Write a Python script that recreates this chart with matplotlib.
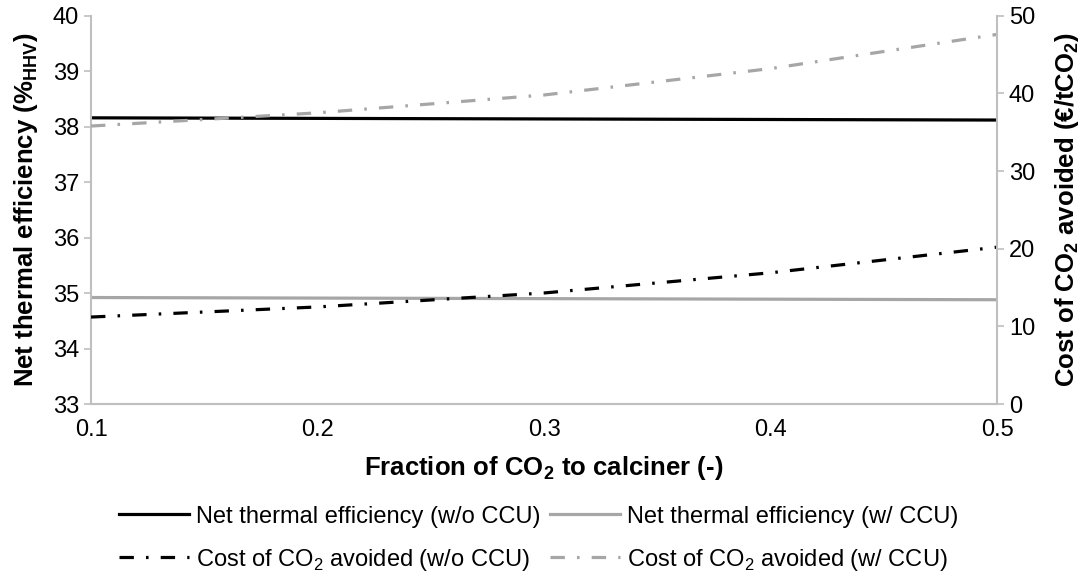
import matplotlib.pyplot as plt
import numpy as np

plt.rcParams['font.family'] = ['Liberation Sans', 'DejaVu Sans']
plt.rcParams['mathtext.fontset'] = 'custom'
plt.rcParams['mathtext.rm'] = 'Liberation Sans'
plt.rcParams['mathtext.bf'] = 'Liberation Sans:bold'

# fraction of CO2 sent to the calciner
frac = [0.1, 0.2, 0.3, 0.4, 0.5]
eff_wo = [38.16, 38.15, 38.14, 38.13, 38.12]     # %HHV
eff_w = [34.92, 34.91, 34.90, 34.89, 34.88]
cost_wo = [11.2, 12.5, 14.3, 16.9, 20.2]         # EUR/tCO2
cost_w = [35.8, 37.5, 39.8, 43.2, 47.6]

xticks = [0.1, 0.2, 0.3, 0.4, 0.5]
yticks_l = [33, 34, 35, 36, 37, 38, 39, 40]
yticks_r = [0, 10, 20, 30, 40, 50]

grey = '#A6A6A6'
spine = '#BFBFBF'
dd = (4.5, 3.8, 0.8, 3.8)

fig = plt.figure(figsize=(10.89, 5.76), dpi=100)
ax = fig.add_axes([0.0836, 0.2986, 0.832, 0.674])
ax2 = ax.twinx()

l1, = ax.plot(frac, eff_wo, color='black', lw=2.3)
l2, = ax.plot(frac, eff_w, color=grey, lw=2.3)
l3, = ax2.plot(frac, cost_wo, color='black', lw=2.3, dashes=dd)
l4, = ax2.plot(frac, cost_w, color=grey, lw=2.3, dashes=dd)

ax.set_xlim(0.1, 0.5)
ax.set_ylim(33, 40)
ax2.set_ylim(0, 50)
ax.set_xticks(xticks)
ax.set_xticklabels([f'{v:.1f}' for v in xticks])
ax.set_yticks(yticks_l)
ax2.set_yticks(yticks_r)

for a in (ax, ax2):
    a.spines['top'].set_visible(False)
    for s in ('left', 'right', 'bottom'):
        a.spines[s].set_color(spine)
        a.spines[s].set_linewidth(1.5)
    a.tick_params(colors=spine, labelcolor='black', labelsize=17, length=5, width=1.2)
ax.tick_params(axis='x', length=0, pad=11)
ax.spines['right'].set_visible(False)
ax2.spines['left'].set_visible(False)

ax.set_xlabel(r'Fraction of CO$_\mathbf{2}$ to calciner (-)', fontsize=18.5,
              fontweight='bold', labelpad=9)
ax.set_ylabel(r'Net thermal efficiency (%$_\mathbf{HHV}$)', fontsize=18.5,
              fontweight='bold', labelpad=9)
ax2.set_ylabel(r'Cost of CO$_\mathbf{2}$ avoided (€/tCO$_\mathbf{2}$)', fontsize=18.5,
               fontweight='bold', labelpad=13)

fig.legend([l1, l3, l2, l4],
           ['Net thermal efficiency (w/o CCU)',
            r'Cost of CO$_\mathregular{2}$ avoided (w/o CCU)',
            'Net thermal efficiency (w/ CCU)',
            r'Cost of CO$_\mathregular{2}$ avoided (w/ CCU)'],
           ncol=2, loc='center', bbox_to_anchor=(0.4945, 0.064), frameon=False,
           fontsize=17, handlelength=2.95, handletextpad=0.3, columnspacing=0.42,
           labelspacing=0.8)

fig.savefig('out.png', dpi=100)
